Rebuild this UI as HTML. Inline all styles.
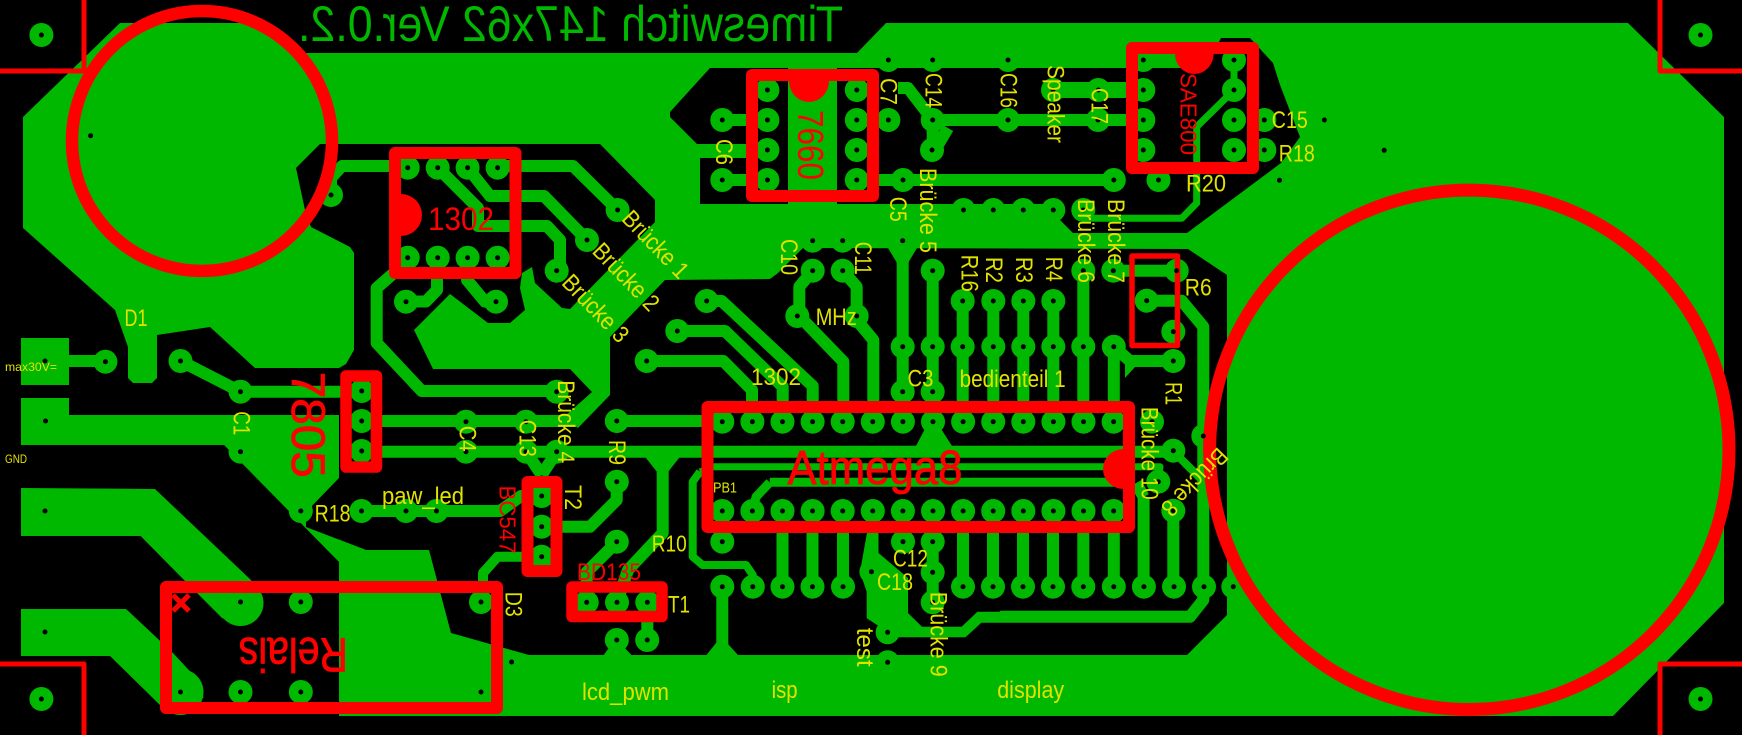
<!DOCTYPE html>
<html>
<head>
<meta charset="utf-8">
<title>Timeswitch PCB layout</title>
<style>
html,body{margin:0;padding:0;background:#000;width:1742px;height:735px;overflow:hidden}
svg{display:block}
text{font-family:"Liberation Sans",sans-serif;text-anchor:middle}
.y text{fill:#e2e200}
.r text{fill:#f00}
</style>
</head>
<body>
<svg width="1742" height="735" viewBox="0 0 1742 735" xmlns="http://www.w3.org/2000/svg">
<defs>
<path id="p" d="M41.4 35h.01M1700.5 35h.01M41.4 699h.01M1700.5 699h.01
M407.7 167.7h.01M437.7 167.7h.01M467.6 167.7h.01M497.6 167.7h.01M407.7 257.7h.01M437.7 257.7h.01M467.6 257.7h.01M497.6 257.7h.01
M406 301.7h.01M496 301.7h.01M331 195h.01M556.7 270.7h.01M587 240h.01M617.6 210h.01
M105.4 361.7h.01M180.5 361h.01M240.5 391.7h.01M240.5 451.7h.01M361.7 391h.01M361.7 421h.01M361.7 451h.01
M466 421.7h.01M466 451.7h.01M526 421.7h.01M526 451.7h.01M556.7 451.7h.01M556.7 391.7h.01
M300.8 511h.01M361.5 511h.01M406 511h.01M436.5 511h.01M541.7 496h.01M541.7 526.7h.01M541.7 556.7h.01
M300.8 602h.01M481 602h.01M240.5 692h.01M300.8 692h.01
M616.8 421h.01M616.8 481.7h.01M616.8 541.7h.01M616.8 640h.01M647.2 640h.01M586.7 602.3h.01M617 602.3h.01M647.3 602.3h.01
M646.7 361h.01M677.3 331h.01M706.7 301h.01M812.7 240.7h.01M842.7 240.7h.01M902.7 240.7h.01M812.7 270.7h.01M842.7 270.7h.01M797.3 316h.01M856.7 316h.01
M902.7 346.7h.01M902.7 391.7h.01M932.7 270.7h.01M932.7 346.7h.01M932.7 391.7h.01
M962.7 301h.01M962.7 346.7h.01M993.3 301h.01M993.3 346.7h.01M1023.3 301h.01M1023.3 346.7h.01M1053.3 301h.01M1053.3 346.7h.01
M1083.3 270.7h.01M1083.3 346.7h.01M1113.3 270.7h.01M1113.8 346.7h.01M1176.7 270.7h.01M1146.7 300.7h.01M1173.3 331.7h.01M1173.3 361h.01
M722.3 421.7h.01M752.4 421.7h.01M782.5 421.7h.01M812.6 421.7h.01M842.7 421.7h.01M872.8 421.7h.01M902.9 421.7h.01M933 421.7h.01M963.1 421.7h.01M993.2 421.7h.01M1023.3 421.7h.01M1053.4 421.7h.01M1083.5 421.7h.01M1113.6 421.7h.01
M722.3 511h.01M752.4 511h.01M782.5 511h.01M812.6 511h.01M842.7 511h.01M872.8 511h.01M902.9 511h.01M933 511h.01M963.1 511h.01M993.2 511h.01M1023.3 511h.01M1053.4 511h.01M1083.5 511h.01M1113.6 511h.01
M722.3 541.7h.01M722.3 586.7h.01M752.8 586.7h.01M782.5 586.7h.01M812.5 586.7h.01M843 586.7h.01M963 586.7h.01M993 586.7h.01M1023 586.7h.01M1053 586.7h.01M1083.3 586.7h.01M1113.8 586.7h.01M1143.9 586.7h.01M1174 586.7h.01M1204 586.7h.01M1233.3 586.7h.01
M871.4 571.7h.01M903 541.7h.01M932.7 541.7h.01M932.7 572.3h.01M932.7 602.3h.01M887.6 632.3h.01M887.6 662.3h.01
M1152 421.7h.01M1173.3 450.7h.01M1158.3 481.7h.01M1173.3 510.7h.01M1203.3 436h.01
M767.4 90h.01M767.4 120h.01M767.4 150h.01M767.4 180h.01M856.8 90h.01M856.8 120h.01M856.8 150h.01M856.8 180h.01
M722.3 120h.01M722.3 180h.01M888.4 120h.01M888.4 60h.01M932.7 60h.01M1008 60h.01M932.7 120h.01M932 150h.01M1008 120h.01M1053 90h.01M1098.3 90h.01M1098 120h.01M903 180h.01M1113.8 180h.01M1158.5 180h.01
M963.5 210h.01M993.3 210h.01M1023.3 210h.01M1053.3 210h.01M1083.3 210h.01
M1143.3 60h.01M1143.3 90h.01M1143.3 120h.01M1143.3 150h.01M1234 60h.01M1234 90h.01M1234 120h.01M1234 150h.01M1264.3 120h.01M1264.3 150h.01"/>
<path id="h" d="M90.6 135.7h.01M1324.4 120h.01M1384.2 150.3h.01M1279.5 180.3h.01M511.6 662h.01M45 361h.01M45.5 421h.01M45 511h.01M45 632h.01M240.5 602h.01M180.5 692h.01M481 692h.01"/>
</defs>

<!-- copper pour -->
<polygon fill="#00b800" points="120,23 262,23 300,53 857,53 886,23 1628,23 1724,117 1724,603 1613,716 339,716 339,368 255,368 210,327 157,335 157,378 152,383 133,383 128,378 128,347 115,310 23,228 23,117"/>
<!-- cutouts -->
<polygon fill="#000" points="320,144 600,144 655,200 655,222 570,309 562,308 535,283 532,267 522,273 520,288 525,310 510,323 488,323 450,294 414,330 433,369 570,369 592,392 565,416 578,428 610,395 610,337 665,280 770,279 778,273 803,248 1188,249 1227,275 1227,615 1187,655 529,655 451,633 429,550 366,550 306,527 306,512 339,478 339,368 346,364 354,350 354,253 350,247 311,227 305,210 296,168"/>
<polygon fill="#000" points="710,68 1195,68 1215,50 1221,38 1250,38 1273,63 1280,85 1300,137 1281,163 1187,233 1073,233 1057,217 1050,204 700,204 700,144 697,144 670,117 670,112"/>
<!-- copper areas -->
<g fill="#00b800">
<rect x="697" y="144" width="70" height="14"/>
<polygon points="788,68 837,68 837,204 788,204"/>
<polygon points="888,248 917,248 908,263 897,263"/>
<rect x="21" y="338" width="48" height="47"/>
<rect x="21" y="398" width="48" height="47"/>
<polygon points="69,415 339,415 339,478 306,512 306,527 366,550 370,562 339,562 224,445 69,445"/>
<polygon points="21,488 155,489 251,580 262,600 240,625 222,618 185,581 140.6,536 21,536"/>
<circle cx="240.5" cy="603" r="23"/>
<polygon points="21,609 126,609 172,652 200,682 203.5,698 163,708 110,656 21,656"/>
<circle cx="180.5" cy="692" r="23"/>
<polygon points="645,456.7 680,456.7 668,472 657,472"/>
<polygon points="916,446 952,446 936,421 929,421"/>
<polygon points="706.5,655 738,655 727,643 716,643"/>
<polygon points="603.7,655 631.4,655 622,645 611,645"/>
<polygon points="867,532.7 878.5,532.7 878.5,553 908,578 908,613 922,626.7 961.6,626.7 977.4,611.7 1000,611.7 1000,622.7 981.3,622.7 965.5,637.3 896.3,637.3 866.7,618.3 866.7,591.7 860,572"/>
<polygon points="1125,358 1135,355 1135,367 1125,378"/>
</g>
<!-- traces -->
<g fill="none" stroke="#00b800" stroke-linejoin="round">
<path stroke-width="12" d="M69 361H105M180.5 361L240.5 391.7H362M382 421H578M382 451.7H1173M395 272L376.7 288V343L421.7 391H556.7M395 166H342L331 178V195M437.7 167.7L478 208V226H547L560 240V270M467.6 167.7L490 196H544L587 240M497.6 166H573L617.6 210M437 258V290L426 301.5H406M467 258V280L485 301.7H496M361.5 511H500L521 496H541M541.7 526.7H590L616.7 500V481.7M526 451.7L541.7 475M556.7 451.7L541.7 475M616.8 421H722M617 541.7L586.7 572V602M662.7 457V533L628 570L617 602M647.3 602V640M706.7 301H721.7L812.7 386V421.7M677.3 331H725L782.7 386.7V421.7M647.3 361H723.3L752 390V421.7M812.7 270.7L799.3 286.7V316L843.3 361.7V421.7M842.7 270.7L856.7 286.7V320L873.3 340V421.7M902.7 240.7V391.7M932.7 270.7V391.7M962.7 301V421.7M993.3 301V421.7M1023.3 301V421.7M1053.3 301V421.7M1083.3 270.7V421.7M1113.3 270.7H1176.7M1113.8 346.7V421.7M1113.8 346.7L1130 361H1173.3M1146.7 300.7H1181.7L1203.3 326.7V600L1190 616.7H1000M1173.3 510.7V587M1143.6 497V587M1136 483L1143.6 497M782.5 511V586.7M812.5 511V586.7M843 511V586.7M963 511V586.7M993 511V586.7M1023 511V586.7M1053 511V586.7M1083.3 511V586.7M1113.8 511V586.7M722.3 586.7V650M932.7 541.7V602.3M932.7 120H1143M878 180H1113.8M722.3 120H767M722.3 180H767M898 88H908L932.7 120V150M948 128L935 150"/>
<path stroke-width="16" d="M1053 90H1143"/>
<path stroke-width="10" d="M541.7 556.7H497.6L483 573V602"/>
<path stroke-width="9" d="M769.8 482.3H1120M769.8 482.3L756 497L752.8 511"/>
<path stroke-width="8" d="M1173 451L1204 482M700 471.7L692.7 481.7V556.7L702.6 565H746L752.8 575V586.7"/>
<path stroke-width="7" d="M713 466.7H1160L1158 482M700 472L713 466.7M1234 60V90L1196.7 126.7V203L1181.7 218.3H1085"/>
</g>
<!-- pads -->
<use href="#p" fill="none" stroke="#00b800" stroke-width="24" stroke-linecap="round"/>
<!-- red component outlines -->
<g fill="none" stroke="#f00" stroke-linejoin="round">
<circle cx="202" cy="141" r="130" stroke-width="12.5"/>
<circle cx="1469.3" cy="449.8" r="259.7" stroke-width="13"/>
<path stroke-width="5" d="M84 0V71H0M1660 0V71H1742M84 735V664H0M1660 735V664H1742"/>
<rect x="395" y="153" width="120.5" height="120" stroke-width="12"/>
<rect x="752" y="75" width="121" height="121" stroke-width="12"/>
<rect x="1132" y="48" width="121" height="120" stroke-width="12"/>
<rect x="707.5" y="407" width="421.5" height="120" stroke-width="12"/>
<rect x="346" y="376" width="30.5" height="91" stroke-width="11.5"/>
<rect x="527.5" y="482" width="29" height="89" stroke-width="12"/>
<rect x="572" y="587" width="90" height="29.5" stroke-width="11.5"/>
<rect x="166" y="587" width="331" height="121" stroke-width="12"/>
<rect x="1132" y="256" width="45.5" height="89.5" stroke-width="5.5"/>
<path stroke-width="5" d="M173 595L189 611M189 595L173 611"/>
</g>
<g fill="#f00">
<path d="M401 194A21 21 0 0 1 401 236Z"/>
<path d="M789 81A20 21 0 0 0 829 81Z"/>
<path d="M1175 54A19.3 20 0 0 0 1213.6 54Z"/>
<path d="M1123.7 449A20.7 20 0 0 0 1123.7 489Z"/>
</g>
<!-- drill holes -->
<use href="#p" fill="none" stroke="#000" stroke-width="5" stroke-linecap="round"/>
<use href="#h" fill="none" stroke="#000" stroke-width="5" stroke-linecap="round"/>

<!-- mirrored title -->
<text transform="translate(843 41) scale(-1 1)" style="text-anchor:start" font-size="50" fill="#00b800" textLength="545" lengthAdjust="spacingAndGlyphs">Timeswitch 147x62 Ver.0.2.</text>

<!-- red labels -->
<g class="r">
<text x="461" y="230" font-size="32" textLength="66" lengthAdjust="spacingAndGlyphs">1302</text>
<text transform="translate(811 145) rotate(90)" dy=".36em" font-size="36" textLength="70" lengthAdjust="spacingAndGlyphs">7660</text>
<text transform="translate(1189 114) rotate(90)" dy=".36em" font-size="23" textLength="82" lengthAdjust="spacingAndGlyphs">SAE800</text>
<text transform="translate(309 424.7) rotate(90)" dy=".36em" font-size="47" textLength="106" lengthAdjust="spacingAndGlyphs" stroke="#f00" stroke-width=".8">7805</text>
<text transform="translate(507.7 519.5) rotate(90)" dy=".36em" font-size="23" textLength="68" lengthAdjust="spacingAndGlyphs">BC547</text>
<text x="609" y="580" font-size="24" textLength="64" lengthAdjust="spacingAndGlyphs">BD135</text>
<text transform="translate(293.3 655.5) rotate(180)" dy=".36em" font-size="48" textLength="109" lengthAdjust="spacingAndGlyphs" stroke="#f00" stroke-width=".8">Relais</text>
<text x="875" y="484" font-size="48" textLength="175" lengthAdjust="spacingAndGlyphs" stroke="#f00" stroke-width=".8">Atmega8</text>
</g>

<!-- yellow labels -->
<g class="y" font-size="24">
<text x="136" y="326" textLength="23" lengthAdjust="spacingAndGlyphs">D1</text>
<text x="31" y="371" font-size="12" textLength="52" lengthAdjust="spacingAndGlyphs">max30V=</text>
<text x="16" y="463" font-size="12" textLength="22" lengthAdjust="spacingAndGlyphs">GND</text>
<text transform="translate(242.3 423.3) rotate(90)" dy=".36em" textLength="24" lengthAdjust="spacingAndGlyphs">C1</text>
<text transform="translate(468 438.7) rotate(90)" dy=".36em" textLength="26" lengthAdjust="spacingAndGlyphs">C4</text>
<text transform="translate(528 438.3) rotate(90)" dy=".36em" textLength="37" lengthAdjust="spacingAndGlyphs">C13</text>
<text transform="translate(566.5 421.7) rotate(90)" dy=".36em" textLength="83" lengthAdjust="spacingAndGlyphs">Brücke 4</text>
<text x="423" y="504" textLength="82" lengthAdjust="spacingAndGlyphs">paw_led</text>
<text x="332.6" y="521.7" textLength="36" lengthAdjust="spacingAndGlyphs">R18</text>
<text transform="translate(573.8 497.5) rotate(90)" dy=".36em" textLength="25" lengthAdjust="spacingAndGlyphs">T2</text>
<text transform="translate(514 604.2) rotate(90)" dy=".36em" textLength="25" lengthAdjust="spacingAndGlyphs">D3</text>
<text transform="translate(617.8 452.5) rotate(90)" dy=".36em" textLength="25" lengthAdjust="spacingAndGlyphs">R9</text>
<text x="669.2" y="551.7" font-size="23" textLength="35" lengthAdjust="spacingAndGlyphs">R10</text>
<text x="679" y="612.7" textLength="22" lengthAdjust="spacingAndGlyphs">T1</text>
<text x="725" y="492.7" font-size="15" textLength="24" lengthAdjust="spacingAndGlyphs">PB1</text>
<text x="625.5" y="700" textLength="87" lengthAdjust="spacingAndGlyphs">lcd_pwm</text>
<text x="784.6" y="698" textLength="26" lengthAdjust="spacingAndGlyphs">isp</text>
<text x="1030.7" y="698" textLength="67" lengthAdjust="spacingAndGlyphs">display</text>
<text transform="translate(865.7 647.2) rotate(90)" dy=".36em" textLength="39" lengthAdjust="spacingAndGlyphs">test</text>
<text transform="translate(939.2 634.2) rotate(90)" dy=".36em" textLength="85" lengthAdjust="spacingAndGlyphs">Brücke 9</text>
<text x="910.5" y="566.7" textLength="35" lengthAdjust="spacingAndGlyphs">C12</text>
<text x="895" y="590" textLength="36" lengthAdjust="spacingAndGlyphs">C18</text>
<text transform="translate(1150 453.3) rotate(90)" dy=".36em" textLength="93" lengthAdjust="spacingAndGlyphs">Brücke 10</text>
<text transform="translate(1195 482.5) rotate(134)" dy=".36em" textLength="84" lengthAdjust="spacingAndGlyphs">Brücke 8</text>
<text transform="translate(1174.2 393.6) rotate(90)" dy=".36em" textLength="23" lengthAdjust="spacingAndGlyphs">R1</text>
<text x="1198.3" y="295.7" textLength="27" lengthAdjust="spacingAndGlyphs">R6</text>
<text x="776" y="385" textLength="50" lengthAdjust="spacingAndGlyphs">1302</text>
<text x="920.5" y="386.7" textLength="26" lengthAdjust="spacingAndGlyphs">C3</text>
<text x="1012.6" y="387" textLength="106" lengthAdjust="spacingAndGlyphs">bedienteil 1</text>
<text x="836.2" y="325" textLength="41" lengthAdjust="spacingAndGlyphs">MHz</text>
<text transform="translate(789.7 257) rotate(90)" dy=".36em" textLength="36" lengthAdjust="spacingAndGlyphs">C10</text>
<text transform="translate(863.7 258.3) rotate(90)" dy=".36em" textLength="33" lengthAdjust="spacingAndGlyphs">C11</text>
<text transform="translate(970 273.3) rotate(90)" dy=".36em" textLength="37" lengthAdjust="spacingAndGlyphs">R16</text>
<text transform="translate(994.5 270) rotate(90)" dy=".36em" textLength="26" lengthAdjust="spacingAndGlyphs">R2</text>
<text transform="translate(1024.5 270) rotate(90)" dy=".36em" textLength="26" lengthAdjust="spacingAndGlyphs">R3</text>
<text transform="translate(1054.5 269.2) rotate(90)" dy=".36em" textLength="25" lengthAdjust="spacingAndGlyphs">R4</text>
<text transform="translate(889 91.5) rotate(90)" dy=".36em" textLength="27" lengthAdjust="spacingAndGlyphs">C7</text>
<text transform="translate(934 90.5) rotate(90)" dy=".36em" textLength="35" lengthAdjust="spacingAndGlyphs">C14</text>
<text transform="translate(1009 90.5) rotate(90)" dy=".36em" textLength="35" lengthAdjust="spacingAndGlyphs">C16</text>
<text transform="translate(1056 104) rotate(90)" dy=".36em" textLength="78" lengthAdjust="spacingAndGlyphs">Speaker</text>
<text transform="translate(1100 106) rotate(90)" dy=".36em" textLength="36" lengthAdjust="spacingAndGlyphs">C17</text>
<text transform="translate(724.8 152) rotate(90)" dy=".36em" textLength="26" lengthAdjust="spacingAndGlyphs">C6</text>
<text transform="translate(898.8 209.2) rotate(90)" dy=".36em" textLength="25" lengthAdjust="spacingAndGlyphs">C5</text>
<text transform="translate(928.5 210.5) rotate(90)" dy=".36em" textLength="85" lengthAdjust="spacingAndGlyphs">Brücke 5</text>
<text transform="translate(1086.7 241) rotate(90)" dy=".36em" textLength="84" lengthAdjust="spacingAndGlyphs">Brücke 6</text>
<text transform="translate(1116.8 241) rotate(90)" dy=".36em" textLength="84" lengthAdjust="spacingAndGlyphs">Brücke 7</text>
<text x="1206" y="191.7" textLength="40" lengthAdjust="spacingAndGlyphs">R20</text>
<text x="1289.8" y="128" textLength="36" lengthAdjust="spacingAndGlyphs">C15</text>
<text x="1296.8" y="161.7" textLength="36" lengthAdjust="spacingAndGlyphs">R18</text>
<text transform="translate(656 244) rotate(46)" dy=".36em" textLength="84" lengthAdjust="spacingAndGlyphs">Brücke 1</text>
<text transform="translate(626.5 276.5) rotate(46)" dy=".36em" textLength="84" lengthAdjust="spacingAndGlyphs">Brücke 2</text>
<text transform="translate(596 308) rotate(46)" dy=".36em" textLength="84" lengthAdjust="spacingAndGlyphs">Brücke 3</text>
</g>
</svg>
</body>
</html>
